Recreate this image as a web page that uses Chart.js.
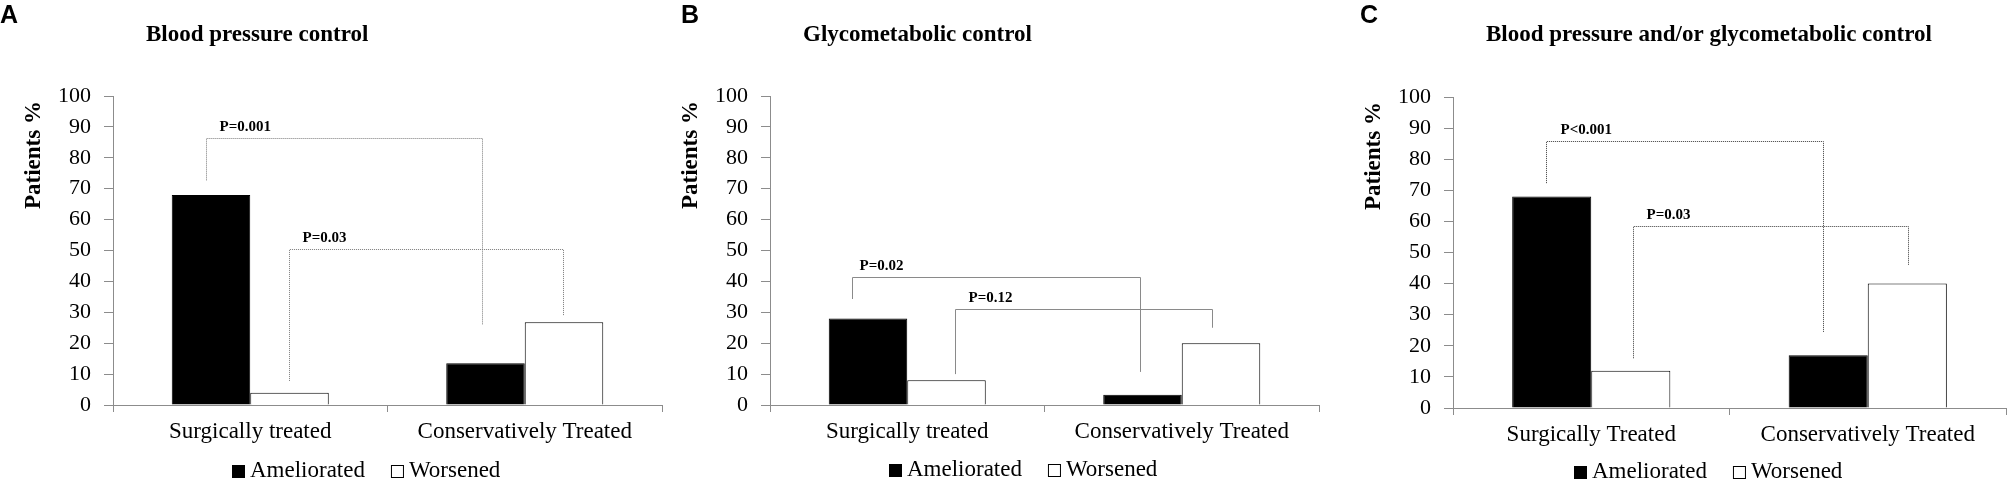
<!DOCTYPE html>
<html>
<head>
<meta charset="utf-8">
<script src="https://cdn.jsdelivr.net/npm/chart.js@4.4.1/dist/chart.umd.min.js"></script>
<style>
  html, body { margin: 0; padding: 0; background: #fff; overflow: hidden; }
  canvas { position: absolute; top: 0; }
</style>
</head>
<body>
<canvas id="panelA" width="680" height="482" style="left:0px;width:680px;height:482px"></canvas>
<canvas id="panelB" width="678" height="482" style="left:680px;width:678px;height:482px"></canvas>
<canvas id="panelC" width="649" height="482" style="left:1358px;width:649px;height:482px"></canvas>
<script>
// categories and series
const seriesNames = ['Ameliorated', 'Worsened'];
const categoriesA = ['Surgically treated', 'Conservatively Treated'];
const categoriesB = ['Surgically treated', 'Conservatively Treated'];
const categoriesC = ['Surgically Treated', 'Conservatively Treated'];

const amelioratedA = [68, 13.5];
const worsenedA = [4, 26.8];
const amelioratedB = [28, 3.3];
const worsenedB = [8, 20];
const amelioratedC = [68, 17];
const worsenedC = [12, 40];

const titles = ['Blood pressure control', 'Glycometabolic control', 'Blood pressure and/or glycometabolic control'];
const letters = ['A', 'B', 'C'];
const yTitle = 'Patients %';
const yMin = 0, yMax = 100, yStep = 10;

// significance brackets: x in category units, y in % units
const bracketsA = [
  { label: 'P=0.001', x1: -0.162, x2: 0.845, y: 86.5, y1: 72.7, y2: 25.9, dx: 13 },
  { label: 'P=0.03', x1: 0.142, x2: 1.14, y: 50.4, y1: 7.8, y2: 29, dx: 13 }
];
const bracketsB = [
  { label: 'P=0.02', x1: -0.2, x2: 0.847, y: 41.3, y1: 34.3, y2: 10.7, dx: 7 },
  { label: 'P=0.12', x1: 0.173, x2: 1.109, y: 31.1, y1: 10, y2: 25, dx: 13 }
];
const bracketsC = [
  { label: 'P<0.001', x1: -0.163, x2: 0.838, y: 86, y1: 72.3, y2: 24.3, dx: 14 },
  { label: 'P=0.03', x1: 0.152, x2: 1.147, y: 58.5, y1: 16, y2: 46, dx: 13 }
];

const SERIF = '"Liberation Serif", "Times New Roman", serif';
const AXIS_GREY = '#8c8c8c';

// draws panel letter, title, y title, brackets and legend
const panelExtras = {
  id: 'panelExtras',
  afterDraw(chart, args, opts) {
    const { ctx, chartArea: a, scales: { x, y } } = chart;
    ctx.save();
    ctx.fillStyle = '#000';
    ctx.textAlign = 'left';
    ctx.textBaseline = 'alphabetic';
    ctx.font = 'bold 25px "Liberation Sans", Arial, sans-serif';
    ctx.fillText(opts.letter, opts.letterX, 23);

    ctx.font = 'bold 23px ' + SERIF;
    ctx.fillText(opts.title, a.left + 33, 41);

    ctx.save();
    ctx.translate(a.left - 79, a.top + 59);
    ctx.rotate(-Math.PI / 2);
    ctx.textAlign = 'center';
    ctx.textBaseline = 'middle';
    ctx.fillText(yTitle, 0, 0);
    ctx.restore();

    // brackets
    ctx.strokeStyle = opts.bracketColor;
    ctx.lineWidth = 1;
    ctx.setLineDash(opts.dash);
    opts.brackets.forEach(b => {
      const px1 = Math.round(x.getPixelForValue(b.x1)) + 0.5;
      const px2 = Math.round(x.getPixelForValue(b.x2)) + 0.5;
      const py = Math.round(y.getPixelForValue(b.y)) + 0.5;
      ctx.beginPath();
      ctx.moveTo(px1, y.getPixelForValue(b.y1));
      ctx.lineTo(px1, py);
      ctx.lineTo(px2, py);
      ctx.lineTo(px2, y.getPixelForValue(b.y2));
      ctx.stroke();
      ctx.font = 'bold 15px ' + SERIF;
      ctx.textBaseline = 'middle';
      ctx.fillText(b.label, px1 + b.dx, py - 11);
    });
    ctx.setLineDash([]);

    // legend
    ctx.font = '23px ' + SERIF;
    ctx.textBaseline = 'middle';
    const w1 = ctx.measureText(seriesNames[0]).width;
    const w2 = ctx.measureText(seriesNames[1]).width;
    const total = 18 + w1 + 26 + 18 + w2;
    let lx = Math.round((a.left + a.right) / 2 - 21.5 - total / 2);
    const ly = opts.legendY;
    ctx.fillStyle = '#000';
    ctx.fillRect(lx, ly - 6, 13, 13);
    ctx.fillText(seriesNames[0], lx + 18, ly);
    lx += 18 + w1 + 26;
    ctx.fillStyle = '#fff';
    ctx.fillRect(lx, ly - 6, 13, 13);
    ctx.strokeStyle = '#000';
    ctx.strokeRect(lx + 0.5, ly - 5.5, 12, 12);
    ctx.fillStyle = '#000';
    ctx.fillText(seriesNames[1], lx + 18, ly);
    ctx.restore();
  }
};

function makePanel(id, cats, amel, wors, cfg) {
  const ctx = document.getElementById(id).getContext('2d');
  return new Chart(ctx, {
    type: 'bar',
    data: {
      labels: cats,
      datasets: [
        { label: seriesNames[0], data: amel, backgroundColor: '#000', borderColor: '#000', borderWidth: 1 },
        { label: seriesNames[1], data: wors, backgroundColor: '#fff', borderColor: '#000', borderWidth: 1 }
      ]
    },
    options: {
      responsive: false,
      devicePixelRatio: 1,
      animation: false,
      events: [],
      categoryPercentage: 0.572,
      barPercentage: 1,
      layout: { padding: { left: 0, right: cfg.padRight, top: cfg.top, bottom: 0 } },
      scales: {
        x: {
          afterFit: s => { s.height = 482 - cfg.bottom; },
          grid: { offset: true, drawOnChartArea: false, tickLength: 7, color: AXIS_GREY },
          border: { color: AXIS_GREY },
          ticks: { color: '#000', padding: 6, font: { family: SERIF, size: 23 } }
        },
        y: {
          min: yMin,
          max: yMax,
          afterFit: s => { s.width = cfg.left; },
          grid: { drawOnChartArea: false, tickLength: 9, color: AXIS_GREY },
          border: { color: AXIS_GREY },
          ticks: { stepSize: yStep, color: '#000', padding: 13, font: { family: SERIF, size: 22 } }
        }
      },
      plugins: {
        legend: { display: false },
        tooltip: { enabled: false },
        panelExtras: cfg.extras
      }
    },
    plugins: [panelExtras]
  });
}

makePanel('panelA', categoriesA, amelioratedA, worsenedA, {
  left: 113, padRight: 18, top: 96, bottom: 405,
  extras: { letter: letters[0], letterX: 0, title: titles[0], brackets: bracketsA, bracketColor: '#7a7a7a', dash: [1, 1], legendY: 471 }
});
makePanel('panelB', categoriesB, amelioratedB, worsenedB, {
  left: 90, padRight: 39, top: 96, bottom: 405,
  extras: { letter: letters[1], letterX: 1, title: titles[1], brackets: bracketsB, bracketColor: '#8a8a8a', dash: [], legendY: 470 }
});
makePanel('panelC', categoriesC, amelioratedC, worsenedC, {
  left: 95, padRight: 1, top: 97, bottom: 408,
  extras: { letter: letters[2], letterX: 2, title: titles[2], brackets: bracketsC, bracketColor: '#3a3a3a', dash: [1, 1], legendY: 472 }
});
</script>
</body>
</html>
